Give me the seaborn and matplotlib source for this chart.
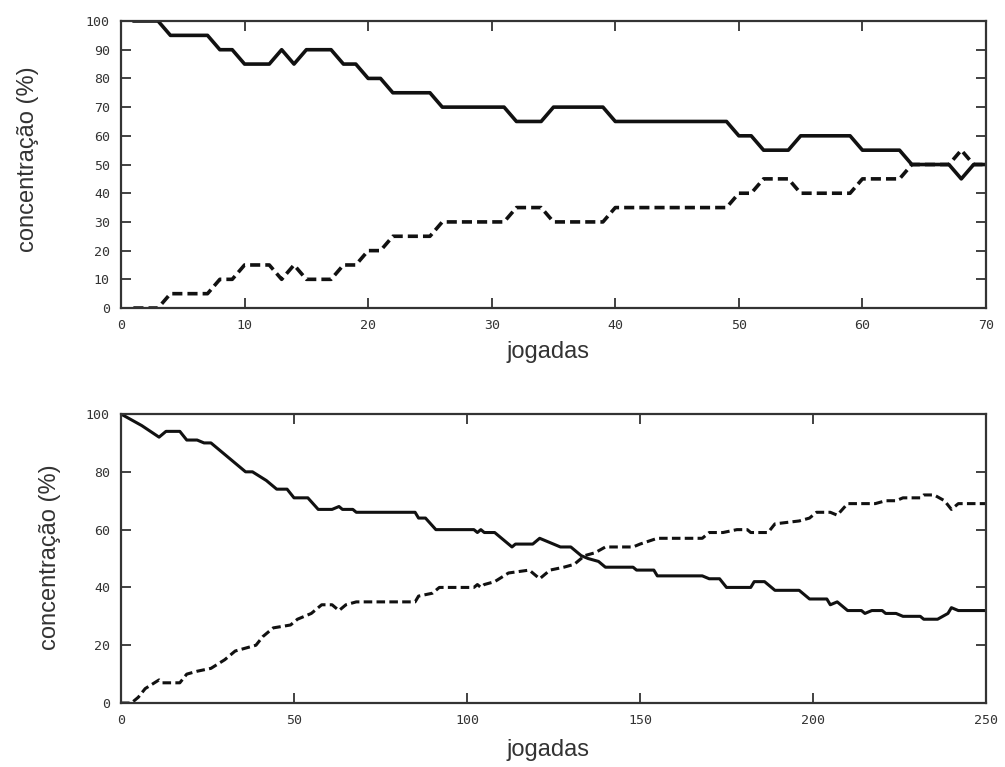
import matplotlib
matplotlib.use("Agg")
import matplotlib.pyplot as plt
import seaborn as sns

# --- upper panel: 70 plays, steps of 5 % ---
jogadas_sup = list(range(1, 71))
conc_a_sup = [100, 100, 100, 95, 95, 95, 95, 90, 90, 85,
              85, 85, 90, 85, 90, 90, 90, 85, 85, 80,
              80, 75, 75, 75, 75, 70, 70, 70, 70, 70,
              70, 65, 65, 65, 70, 70, 70, 70, 70, 65,
              65, 65, 65, 65, 65, 65, 65, 65, 65, 60,
              60, 55, 55, 55, 60, 60, 60, 60, 60, 55,
              55, 55, 55, 50, 50, 50, 50, 45, 50, 50]
conc_b_sup = [0, 0, 0, 5, 5, 5, 5, 10, 10, 15,
              15, 15, 10, 15, 10, 10, 10, 15, 15, 20,
              20, 25, 25, 25, 25, 30, 30, 30, 30, 30,
              30, 35, 35, 35, 30, 30, 30, 30, 30, 35,
              35, 35, 35, 35, 35, 35, 35, 35, 35, 40,
              40, 45, 45, 45, 40, 40, 40, 40, 40, 45,
              45, 45, 45, 50, 50, 50, 50, 55, 50, 50]

# --- lower panel: 250 plays ---
jogadas_inf_a = [0, 6, 11, 13, 17, 19, 22, 24, 26, 29, 32, 36, 38, 42, 45, 48,
                 50, 54, 57, 61, 63, 64, 67, 68, 85, 86, 88, 91, 102, 103, 104,
                 105, 108, 113, 114, 119, 121, 125, 127, 130, 133, 135, 138, 140,
                 148, 149, 154, 155, 168, 170, 173, 175, 182, 183, 186, 189, 196,
                 199, 204, 205, 207, 210, 214, 215, 217, 220, 221, 224, 226, 231,
                 232, 236, 239, 240, 242, 250]
conc_a_inf = [100, 96, 92, 94, 94, 91, 91, 90, 90, 87, 84, 80, 80, 77, 74, 74,
              71, 71, 67, 67, 68, 67, 67, 66, 66, 64, 64, 60, 60, 59, 60,
              59, 59, 54, 55, 55, 57, 55, 54, 54, 51, 50, 49, 47,
              47, 46, 46, 44, 44, 43, 43, 40, 40, 42, 42, 39, 39,
              36, 36, 34, 35, 32, 32, 31, 32, 32, 31, 31, 30, 30,
              29, 29, 31, 33, 32, 32]

jogadas_inf_b = [0, 3, 5, 7, 11, 12, 17, 19, 22, 26, 30, 33, 36, 39, 41, 44,
                 49, 51, 55, 58, 61, 63, 65, 68, 85, 86, 90, 92, 102, 103, 104,
                 105, 108, 112, 118, 121, 124, 128, 131, 134, 137, 140, 148, 150,
                 155, 168, 170, 174, 178, 181, 182, 187, 189, 196, 199, 201, 205,
                 207, 210, 218, 221, 224, 226, 231, 232, 235, 238, 240, 242, 250]
conc_b_inf = [0, 0, 2, 5, 8, 7, 7, 10, 11, 12, 15, 18, 19, 20, 23, 26,
              27, 29, 31, 34, 34, 32, 34, 35, 35, 37, 38, 40, 40, 41, 40,
              41, 42, 45, 46, 43, 46, 47, 48, 51, 52, 54, 54, 55,
              57, 57, 59, 59, 60, 60, 59, 59, 62, 63, 64, 66, 66,
              65, 69, 69, 70, 70, 71, 71, 72, 72, 70, 67, 69, 69]

sns.set_style("ticks")
plt.rcParams["font.family"] = ["Liberation Sans", "DejaVu Sans"]

INK = "#111111"
AXIS = "#333333"
TXT = "#333333"

fig = plt.figure(figsize=(10.05, 7.67), dpi=100)
ax_sup = fig.add_axes([0.1204, 0.5984, 0.8607, 0.3742])
ax_inf = fig.add_axes([0.1204, 0.0834, 0.8607, 0.3768])


def draw(ax, xa, ya, xb, yb, lw):
    sns.lineplot(x=xa, y=ya, ax=ax, color=INK, lw=lw, sort=False,
                 estimator=None)
    sns.lineplot(x=xb, y=yb, ax=ax, color=INK, lw=lw, sort=False,
                 estimator=None, linestyle=(0, (2.8, 1.4)))


def style(ax, xmax, xstep, ystep, ylab_pos, xlab_pos):
    ax.set_xlim(0, xmax)
    ax.set_ylim(0, 100)
    ax.set_xticks(range(0, xmax + 1, xstep))
    ax.set_yticks(range(0, 101, ystep))
    ax.tick_params(direction="in", length=7, width=1.3, color=AXIS,
                   top=True, right=True, pad=8, labelsize=9.5,
                   labelcolor=TXT)
    for lab in ax.get_xticklabels() + ax.get_yticklabels():
        lab.set_fontfamily("DejaVu Sans Mono")
    for sp in ax.spines.values():
        sp.set_color(AXIS)
        sp.set_linewidth(1.6)
        sp.set_visible(True)
    ax.set_xlabel("jogadas", fontsize=17, color=TXT, va="center")
    ax.set_ylabel("concentração (%)", fontsize=17, color=TXT, va="center")
    ax.xaxis.set_label_coords(*xlab_pos)
    ax.yaxis.set_label_coords(*ylab_pos)


draw(ax_sup, jogadas_sup, conc_a_sup, jogadas_sup, conc_b_sup, 2.6)
style(ax_sup, 70, 10, 10, (-0.1075, 0.519), (0.4936, -0.153))

draw(ax_inf, jogadas_inf_a, conc_a_inf, jogadas_inf_b, conc_b_inf, 2.2)
style(ax_inf, 250, 50, 20, (-0.082, 0.505), (0.4936, -0.163))

fig.savefig("out.png", dpi=100)
